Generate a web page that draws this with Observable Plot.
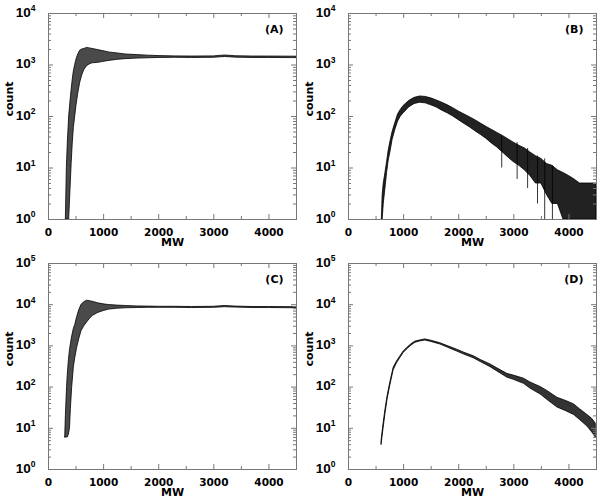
<!DOCTYPE html>
<html><head><meta charset="utf-8">
<script src="https://cdn.jsdelivr.net/npm/d3@7"></script>
<script src="https://cdn.jsdelivr.net/npm/@observablehq/plot@0.6"></script>
<style>
body{margin:0;background:#fff;}
#grid{display:grid;grid-template-columns:300px 300px;grid-template-rows:250px 250px;width:600px;height:500px;}
#grid svg{display:block;}
</style></head><body><div id="grid"></div>
<script>
const panelLabels = ["(A)", "(B)", "(C)", "(D)"];
const xTicks = [0, 1000, 2000, 3000, 4000];
const xMinorTicks = [500, 1500, 2500, 3500, 4500];
const yTicksAB = [1, 10, 100, 1000, 10000];
const yTicksCD = [1, 10, 100, 1000, 10000, 100000];

// Panel A: envelope of the oscillating count vs MW
const mwA = [315, 333, 350, 375, 400, 420, 440, 460, 484, 510, 540, 575, 610, 650, 700, 750, 800, 900, 1000, 1100, 1250, 1400, 1600, 1800, 2000, 2300, 2600, 3000, 3200, 3400, 3700, 4000, 4500];
const hiA = [1, 10, 30, 100, 200, 330, 520, 750, 1000, 1300, 1600, 1900, 2000, 2050, 2150, 2100, 2050, 1950, 1850, 1750, 1680, 1600, 1560, 1520, 1490, 1470, 1460, 1470, 1530, 1480, 1460, 1460, 1450];
const loA = [1, 1, 1, 1, 4, 12, 30, 60, 100, 170, 280, 450, 620, 800, 950, 1030, 1080, 1100, 1150, 1200, 1260, 1300, 1330, 1350, 1370, 1380, 1370, 1380, 1430, 1390, 1370, 1370, 1360];

// Panel B
const mwB = [605, 620, 640, 670, 700, 730, 760, 800, 850, 900, 950, 1000, 1100, 1200, 1300, 1400, 1500, 1600, 1700, 1800, 1900, 2000, 2100, 2200, 2300, 2400, 2500, 2600, 2700, 2800, 2900, 3000, 3100, 3200, 3300, 3400, 3500, 3600, 3700, 3800, 3900, 4000, 4100, 4200, 4300, 4400, 4500];
const hiB = [1, 3, 5, 8, 13, 22, 32, 50, 75, 110, 135, 160, 200, 230, 245, 240, 225, 205, 185, 165, 145, 125, 110, 97, 85, 73, 63, 55, 48, 42, 36, 31, 27, 24, 20, 17, 15, 12, 11, 9, 8, 7, 6, 5, 5, 5, 5];
const loB = [1, 1, 2, 4, 8, 14, 20, 35, 55, 80, 100, 115, 150, 175, 185, 180, 165, 150, 130, 115, 100, 85, 72, 62, 52, 44, 37, 30, 25, 20, 16, 13, 11, 9, 7, 5, 5, 3, 2, 2, 1, 1, 1, 1, 1, 1, 1];
const spikeMwB = [2780, 3060, 3250, 3430, 3560, 3700];
const spikeLoB = [10, 6, 4, 2, 1, 1];
const spikeHiB = [42, 31, 24, 17, 15, 11];

// Panel C
const mwC = [303, 315, 337, 350, 370, 390, 406, 430, 460, 485, 520, 560, 600, 650, 700, 750, 800, 900, 1000, 1100, 1250, 1400, 1600, 1800, 2000, 2300, 2600, 3000, 3200, 3400, 3700, 4000, 4500];
const hiC = [6, 20, 100, 200, 450, 800, 1100, 1700, 2600, 3200, 5000, 7500, 10000, 11500, 12500, 12200, 11800, 10800, 10200, 9800, 9500, 9300, 9100, 9000, 8900, 8900, 8800, 8900, 9300, 9000, 8800, 8800, 8700];
const loC = [6, 6, 6, 6, 7, 10, 30, 100, 300, 500, 900, 1500, 2300, 3000, 3700, 4500, 5300, 6300, 7000, 7600, 8000, 8200, 8300, 8400, 8400, 8400, 8300, 8400, 8700, 8500, 8300, 8300, 8200];

// Panel D
const mwD = [600, 637, 670, 709, 758, 819, 880, 940, 1000, 1061, 1140, 1213, 1300, 1395, 1500, 1668, 1800, 1971, 2100, 2274, 2400, 2577, 2700, 2880, 3000, 3184, 3300, 3487, 3600, 3791, 3950, 4094, 4200, 4336, 4420, 4487];
const loD = [4, 10, 22, 50, 108, 255, 380, 505, 670, 815, 1010, 1190, 1280, 1350, 1250, 1080, 910, 730, 615, 500, 405, 305, 240, 170, 150, 120, 92, 66, 50, 32, 26, 21, 16, 11, 8, 6];
const hiD = [5, 13, 28, 60, 128, 295, 420, 555, 730, 880, 1090, 1270, 1360, 1440, 1340, 1160, 990, 810, 685, 560, 455, 355, 285, 210, 190, 160, 130, 100, 82, 55, 46, 38, 29, 21, 17, 13];

function panel(label, mw, lo, hi, yTicks, fill, spikes) {
  const W = 300, H = 250, mL = 48, mR = 4, mT = 13, mB = 31;
  const pw = W - mL - mR, ph = H - mT - mB;
  const data = mw.map((x, i) => ({x, lo: lo[i], hi: hi[i]}));
  const yDomain = [yTicks[0], yTicks[yTicks.length - 1]];
  const minor = d3.scaleLog().domain(yDomain).ticks().filter(t => !yTicks.includes(t));
  const ts = "#777";
  const svg = Plot.plot({
    width: W, height: H, marginLeft: mL, marginRight: mR, marginTop: mT, marginBottom: mB,
    style: {fontFamily: "'DejaVu Sans', sans-serif", fontWeight: "bold", fontSize: "10.5px", color: "#000", background: "#fff", overflow: "visible"},
    x: {domain: [0, 4500]},
    y: {type: "log", domain: yDomain},
    marks: [
      Plot.areaY(data, {x: "x", y1: "lo", y2: "hi", fill, stroke: "#000", strokeWidth: 0.8, clip: true}),
      spikes ? Plot.ruleX(spikes, {x: "x", y1: "lo", y2: "hi", stroke: "#000", strokeWidth: 0.8}) : null,
      Plot.frame({stroke: "#777"}),
      Plot.ruleY(yTicks, {y: d => d, insetRight: pw - 5, stroke: ts}),
      Plot.ruleY(yTicks, {y: d => d, insetLeft: pw - 5, stroke: ts}),
      Plot.ruleY(minor, {y: d => d, insetRight: pw - 3, stroke: ts}),
      Plot.ruleY(minor, {y: d => d, insetLeft: pw - 3, stroke: ts}),
      Plot.ruleX(xTicks, {x: d => d, insetTop: ph - 5, stroke: ts}),
      Plot.ruleX(xTicks, {x: d => d, insetBottom: ph - 5, stroke: ts}),
      Plot.ruleX(xMinorTicks, {x: d => d, insetTop: ph - 3, stroke: ts}),
      Plot.ruleX(xMinorTicks, {x: d => d, insetBottom: ph - 3, stroke: ts}),
      Plot.axisX({ticks: xTicks, tickSize: 0, tickPadding: 9, label: null, tickFormat: d => String(d)}),
      Plot.axisY({ticks: yTicks, tickSize: 0, tickPadding: 13, label: null,
        tickFormat: d => "10^" + Math.round(Math.log10(d))}),
      Plot.text(["count"], {text: d => d, frameAnchor: "left", dx: -39, rotate: -90, fontSize: 11, lineAnchor: "middle"}),
      Plot.text(["MW"], {text: d => d, frameAnchor: "bottom", dy: 23, fontSize: 11, lineAnchor: "middle"}),
      Plot.text([label], {text: d => d, frameAnchor: "top-right", dx: -13, dy: 16, textAnchor: "end", lineAnchor: "middle", fontSize: 11})
    ]
  });
  const ns = "http://www.w3.org/2000/svg";
  const yFont = "'Liberation Sans', Arial, sans-serif";
  svg.querySelectorAll('g[aria-label="y-axis tick label"] text').forEach(t => {
    const s = t.textContent;
    if (!s.includes("^")) return;
    const [base, exp] = s.split("^");
    t.textContent = "";
    t.setAttribute("font-family", yFont);
    t.style.fontFamily = yFont;
    const a = document.createElementNS(ns, "tspan");
    a.textContent = base;
    a.setAttribute("font-size", "13.5px");
    a.style.fontSize = "13.5px";
    const b = document.createElementNS(ns, "tspan");
    b.textContent = exp;
    b.setAttribute("dy", "-5.5");
    b.setAttribute("font-size", "8.5px");
    b.style.fontSize = "8.5px";
    t.appendChild(a); t.appendChild(b);
  });
  return svg;
}

const grid = document.getElementById("grid");
const spikesB = spikeMwB.map((x, i) => ({x, lo: spikeLoB[i], hi: spikeHiB[i]}));
grid.appendChild(panel(panelLabels[0], mwA, loA, hiA, yTicksAB, "#4a4a4a"));
grid.appendChild(panel(panelLabels[1], mwB, loB, hiB, yTicksAB, "#222", spikesB));
grid.appendChild(panel(panelLabels[2], mwC, loC, hiC, yTicksCD, "#4a4a4a"));
grid.appendChild(panel(panelLabels[3], mwD, loD, hiD, yTicksCD, "#333"));
</script>
</body></html>
